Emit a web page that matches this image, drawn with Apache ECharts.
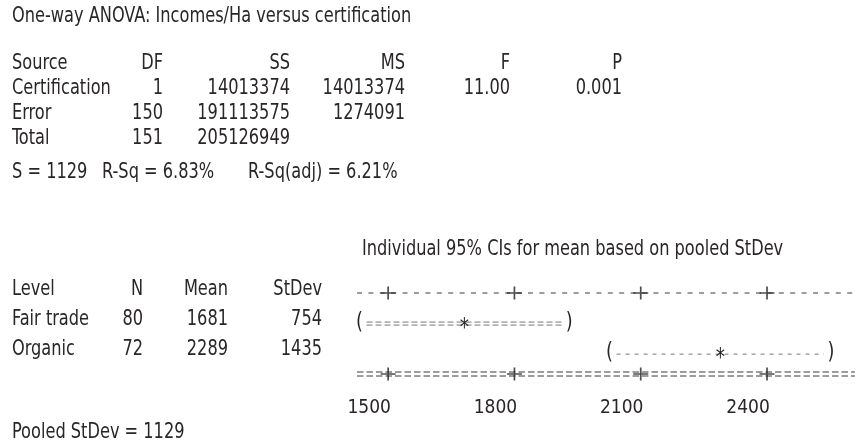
<!DOCTYPE html>
<html lang="en">
<head>
<meta charset="UTF-8">
<title>One-way ANOVA: Incomes/Ha versus certification</title>
<script src="https://cdn.jsdelivr.net/npm/echarts@6/dist/echarts.min.js"></script>
<style>
  html, body { margin: 0; padding: 0; background: #fff; }
  #main { width: 855px; height: 445px; }
</style>
</head>
<body>
<div id="main"></div>
<script>
// anova table
var sources = ['Certification', 'Error', 'Total'];
var dfValues = [1, 150, 151];
var ssValues = [14013374, 191113575, 205126949];
var msValues = [14013374, 1274091, null];
var fValue = '11.00';
var pValue = '0.001';
var sValue = 1129;
var rSq = '6.83%';
var rSqAdj = '6.21%';
// level table
var levels = ['Fair trade', 'Organic'];
var nValues = [80, 72];
var meanValues = [1681, 2289];
var stdevValues = [754, 1435];
// individual 95% CIs, pooled StDev
var ciLower = [1432, 2026];
var ciUpper = [1930, 2552];
var tickValues = [1500, 1800, 2100, 2400];
var pooledStDev = 1129;

var FONT_FAMILY = '"Liberation Sans Narrow", "DejaVu Sans Condensed", sans-serif';
var FONT_SIZE = 21;
var SQUEEZE = 0.857; // condensed look, like the printed output
var FONT = FONT_SIZE + 'px ' + FONT_FAMILY;
var INK = '#2a2627';

function txt(text, x, y, align) {
  return {
    type: 'text', x: x, y: y, scaleX: SQUEEZE, silent: true,
    style: {
      text: String(text), font: FONT, fill: INK,
      textAlign: align || 'left', textVerticalAlign: 'middle'
    }
  };
}

var graphics = [];
graphics.push(txt('One-way ANOVA: Incomes/Ha versus certification', 12, 17));
// header
var colX = [163, 290, 405, 510, 622];
graphics.push(txt('Source', 12, 64));
['DF', 'SS', 'MS', 'F', 'P'].forEach(function (h, i) {
  graphics.push(txt(h, colX[i], 64, 'right'));
});
sources.forEach(function (s, i) {
  var y = 89 + i * 25;
  graphics.push(txt(s, 12, y));
  graphics.push(txt(dfValues[i], colX[0], y, 'right'));
  graphics.push(txt(ssValues[i], colX[1], y, 'right'));
  if (msValues[i] != null) graphics.push(txt(msValues[i], colX[2], y, 'right'));
  if (i === 0) {
    graphics.push(txt(fValue, colX[3], y, 'right'));
    graphics.push(txt(pValue, colX[4], y, 'right'));
  }
});
graphics.push(txt('S = ' + sValue, 12, 173));
graphics.push(txt('R-Sq = ' + rSq, 102, 173));
graphics.push(txt('R-Sq(adj) = ' + rSqAdj, 248, 173));

graphics.push(txt('Individual 95% CIs for mean based on pooled StDev', 362, 250));
var lvlX = [143, 228, 322];
graphics.push(txt('Level', 12, 290));
['N', 'Mean', 'StDev'].forEach(function (h, i) {
  graphics.push(txt(h, lvlX[i], 290, 'right'));
});
levels.forEach(function (l, i) {
  var y = 320 + i * 30;
  graphics.push(txt(l, 12, y));
  graphics.push(txt(nValues[i], lvlX[0], y, 'right'));
  graphics.push(txt(meanValues[i], lvlX[1], y, 'right'));
  graphics.push(txt(stdevValues[i], lvlX[2], y, 'right'));
});
graphics.push(txt('Pooled StDev = ' + pooledStDev, 12, 433));

var X_MIN = 1426, X_MAX = 2609;
var ROW_BOTTOM = 2.65;

// dashed rules drawn as text-plot lines
function renderRule(params, api) {
  var row = api.value(0);
  var a = api.coord([X_MIN, row]);
  var b = api.coord([X_MAX, row]);
  var children = [];
  if (api.value(1) === 2) {
    [-2, 2].forEach(function (d) {
      children.push({
        type: 'line',
        shape: { x1: a[0], y1: a[1] + d, x2: b[0], y2: b[1] + d },
        style: { stroke: '#3a3a3a', lineWidth: 1, lineDash: [6.5, 3] }
      });
    });
  } else {
    children.push({
      type: 'line',
      shape: { x1: a[0], y1: a[1], x2: b[0], y2: b[1] },
      style: { stroke: '#3a3a3a', lineWidth: 1, lineDash: [5, 6.4] }
    });
  }
  return { type: 'group', children: children };
}

function renderCI(params, api) {
  var i = params.dataIndex;
  var row = api.value(3);
  var lo = api.coord([api.value(0), row]);
  var mid = api.coord([api.value(1), row]);
  var hi = api.coord([api.value(2), row]);
  var children = [];
  var x1 = lo[0] + 7, x2 = hi[0] - 7;
  if (i === 0) {
    [-1.5, 1.5].forEach(function (d) {
      children.push({
        type: 'line',
        shape: { x1: x1, y1: lo[1] + d, x2: x2, y2: lo[1] + d },
        style: { stroke: '#555', lineWidth: 0.8, lineDash: [6, 3] }
      });
    });
  } else {
    children.push({
      type: 'line',
      shape: { x1: x1, y1: lo[1], x2: x2, y2: lo[1] },
      style: { stroke: '#555', lineWidth: 0.8, lineDash: [4, 5] }
    });
  }
  [['(', lo[0], 23, -1], [')', hi[0], 23, -1], ['*', mid[0], 24, 5]].forEach(function (c) {
    children.push({
      type: 'text', x: c[1], y: lo[1] + c[3], scaleX: SQUEEZE,
      style: {
        text: c[0], font: c[2] + 'px ' + FONT_FAMILY, fill: INK,
        textAlign: 'center', textVerticalAlign: 'middle',
        align: 'center', verticalAlign: 'middle'
      }
    });
  });
  return { type: 'group', children: children };
}

var ciData = levels.map(function (l, i) {
  return [ciLower[i], meanValues[i], ciUpper[i], i + 1];
});
var tickData = [];
tickValues.forEach(function (v) {
  tickData.push([v, 0]);
  tickData.push([v, ROW_BOTTOM]);
});

var myChart = echarts.init(document.getElementById('main'), null, { renderer: 'canvas' });
var options = {
  backgroundColor: '#fff',
  animation: false,
  textStyle: { fontFamily: FONT_FAMILY },
  grid: { left: 357, right: 0, top: 293, height: 81 },
  xAxis: {
    type: 'value',
    min: X_MIN,
    max: X_MAX,
    axisLine: { show: false },
    axisTick: { show: false },
    splitLine: { show: false },
    axisLabel: {
      customValues: tickValues,
      formatter: function (v) { return String(v); },
      hideOverlap: false,
      margin: 25,
      fontSize: 19,
      color: INK,
      fontFamily: FONT_FAMILY,
      padding: [0, 38, 0, 0]
    }
  },
  yAxis: {
    type: 'value',
    min: 0,
    max: ROW_BOTTOM,
    inverse: true,
    show: false
  },
  graphic: graphics,
  series: [
    {
      name: 'rules',
      type: 'custom',
      renderItem: renderRule,
      clip: false,
      silent: true,
      data: [[0, 1], [ROW_BOTTOM, 2]]
    },
    {
      name: 'ticks',
      type: 'scatter',
      symbol: 'path://M0,5.2h14v1.6h-14z M6.2,0h1.6v12h-1.6z',
      symbolSize: [15, 13],
      itemStyle: { color: '#222' },
      clip: false,
      silent: true,
      z: 5,
      data: tickData
    },
    {
      name: 'CI',
      type: 'custom',
      renderItem: renderCI,
      clip: false,
      silent: true,
      z: 4,
      data: ciData
    }
  ]
};
myChart.setOption(options);
</script>
</body>
</html>
